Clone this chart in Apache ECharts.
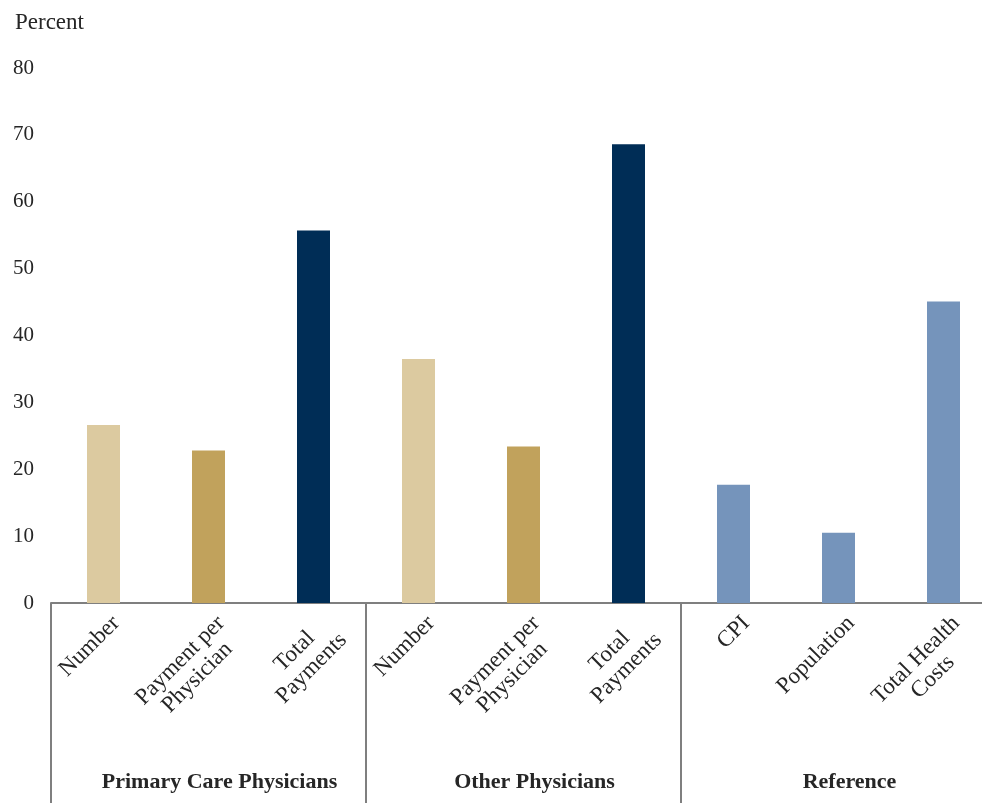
<!DOCTYPE html>
<html>
<head>
<meta charset="utf-8">
<script src="https://cdn.jsdelivr.net/npm/echarts@6/dist/echarts.min.js"></script>
<style>
  html, body { margin: 0; padding: 0; background: #fff; }
  #chart { width: 982px; height: 803px; }
</style>
</head>
<body>
<div id="chart"></div>
<script>
// categories and values
const categories = ['Number', 'Payment per\nPhysician', 'Total\nPayments',
                    'Number', 'Payment per\nPhysician', 'Total\nPayments',
                    'CPI', 'Population', 'Total Health\nCosts'];
const values = [26.6, 22.8, 55.7, 36.5, 23.4, 68.6, 17.7, 10.5, 45.1];
const groups = ['Primary Care Physicians', 'Other Physicians', 'Reference'];
const yTicks = [0, 10, 20, 30, 40, 50, 60, 70, 80];

// one colour per bar
const barColors = ['#dccaa0', '#c1a25c', '#002d56',
                   '#dccaa0', '#c1a25c', '#002d56',
                   '#7594bb', '#7594bb', '#7594bb'];

const font = '"Liberation Serif", "DejaVu Serif", serif';
const textColor = '#262626';

const chart = echarts.init(document.getElementById('chart'));

const option = {
  animation: false,
  title: {
    text: 'Percent',
    left: 10, top: 6,
    textStyle: { fontFamily: font, fontSize: 23, fontWeight: 'normal', color: textColor }
  },
  // plot is wider than the window, the last column is cut off like in the picture
  grid: { left: 51, top: 68, bottom: 200, right: -14, outerBoundsMode: 'none', containLabel: false },
  xAxis: [
    {
      type: 'category',
      data: categories,
      axisLine: { lineStyle: { color: '#7f7f7f', width: 2 } },
      axisTick: { show: false },
      axisLabel: {
        rotate: 45,
        margin: 4,
        interval: 0,
        verticalAlign: 'top',
        padding: [6, 0, 0, 0],
        formatter: v => v.split('\n').map(s => '{c|' + s + '}').join('\n'),
        rich: {
          c: { align: 'center', fontFamily: font, fontSize: 23, color: textColor, lineHeight: 24 }
        }
      }
    },
    {
      type: 'category',
      data: groups,
      position: 'bottom',
      axisLine: { show: false },
      axisTick: { show: true, length: 200, lineStyle: { color: '#7f7f7f', width: 2 } },
      axisLabel: {
        margin: 168,
        interval: 0,
        padding: [0, 0, 0, 22],
        fontFamily: font, fontSize: 22, fontWeight: 'bold', color: textColor
      }
    }
  ],
  yAxis: {
    type: 'value',
    min: yTicks[0],
    max: yTicks[yTicks.length - 1],
    interval: 10,
    splitLine: { show: false },
    axisLine: { show: false },
    axisTick: { show: false },
    axisLabel: { margin: 17, fontFamily: font, fontSize: 21, color: textColor }
  },
  series: [{
    type: 'bar',
    barWidth: 33,
    data: values.map((v, i) => ({ value: v, itemStyle: { color: barColors[i] } }))
  }]
};

chart.setOption(option);
</script>
</body>
</html>
